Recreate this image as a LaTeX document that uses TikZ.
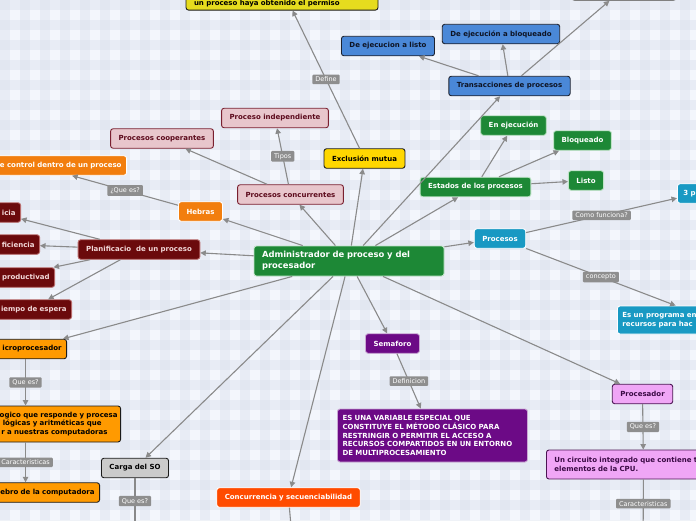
\documentclass[tikz,border=0pt]{standalone}
\usepackage{fontspec}
\setmainfont{DejaVu Sans}
\usetikzlibrary{arrows.meta}
\definecolor{bgc}{HTML}{F3F6FC}
\definecolor{gridc}{HTML}{DCE2EE}
\definecolor{connc}{HTML}{8A8A8A}
\definecolor{lblc}{HTML}{8E8E8E}
\definecolor{greenc}{HTML}{1D8836}
\definecolor{greenb}{HTML}{BFE3C7}
\definecolor{bluec}{HTML}{4A88D8}
\definecolor{blueb}{HTML}{1C2230}
\definecolor{bluet}{HTML}{0E1424}
\definecolor{pinkc}{HTML}{E8C6CC}
\definecolor{pinkb}{HTML}{7A2030}
\definecolor{pinkt}{HTML}{5C0A1C}
\definecolor{maroonc}{HTML}{6B0A0C}
\definecolor{maroonb}{HTML}{B86A6A}
\definecolor{maroont}{HTML}{F3D9D9}
\definecolor{orangec}{HTML}{F27E0E}
\definecolor{amberc}{HTML}{FF9A00}
\definecolor{yellowc}{HTML}{FFD700}
\definecolor{yellowtop}{HTML}{E6DC1E}
\definecolor{grayc}{HTML}{CBCBCB}
\definecolor{redorange}{HTML}{FF4B00}
\definecolor{purplec}{HTML}{6C0A86}
\definecolor{purpleb}{HTML}{C9A6D3}
\definecolor{violetc}{HTML}{F0A6F6}
\definecolor{violetb}{HTML}{4A1452}
\definecolor{violett}{HTML}{3A0A44}
\definecolor{cyanc}{HTML}{1899C3}
\definecolor{darkb}{HTML}{1A1A1A}
\tikzset{
  nodebox/.style={rounded corners=2.5pt, line width=0.9pt, inner xsep=8pt, inner ysep=3pt,
    minimum height=19.5pt, font=\fontsize{7}{8.6}\selectfont\bfseries},
  greenbox/.style={nodebox, fill=greenc, draw=greenb, text=white},
  bluebox/.style={nodebox, fill=bluec, draw=blueb, text=bluet},
  pinkbox/.style={nodebox, fill=pinkc, draw=pinkb, text=pinkt},
  maroonbox/.style={nodebox, fill=maroonc, draw=maroonb, text=maroont},
  orangebox/.style={nodebox, fill=orangec, draw=white, text=white},
  amberbox/.style={nodebox, fill=amberc, draw=darkb, text=black},
  yellowbox/.style={nodebox, fill=yellowc, draw=darkb, text=black},
  graybox/.style={nodebox, fill=grayc, draw=darkb, text=black},
  redbox/.style={nodebox, fill=redorange, draw=white, text=white},
  purplebox/.style={nodebox, fill=purplec, draw=purpleb, text=white},
  violetbox/.style={nodebox, fill=violetc, draw=violetb, text=violett},
  cyanbox/.style={nodebox, fill=cyanc, draw=white, text=white},
  leftcut/.style={anchor=east, align=right, inner xsep=5pt},
  conn/.style={draw=connc, line width=1.1pt, -{Triangle[length=5.5pt,width=5.5pt]}},
  lbl/.style={fill=lblc, text=white, font=\fontsize{6.5}{7.5}\selectfont, inner xsep=3pt,
    inner ysep=2.3pt, rounded corners=1pt}
}
\begin{document}
\begin{tikzpicture}[x=1pt,y=-1pt]
\useasboundingbox (0,0) rectangle (696,520);
\clip (0,0) rectangle (696,520);
% background grid
\fill[bgc] (0,0) rectangle (696,520);
\foreach \i in {0,20,...,680} \fill[gridc, opacity=0.45] (\i,0) rectangle ++(10,520);
\foreach \j in {0,20,...,520} \fill[gridc, opacity=0.45] (0,\j) rectangle ++(696,10);

% nodes
\node[greenbox, text width=174pt, align=left, minimum height=30pt, inner ysep=4pt,
  font=\fontsize{8.4}{11}\selectfont\bfseries] (central) at (349,261)
  {Administrador de proceso y del\\procesador};
\node[yellowbox, fill=yellowtop, anchor=south, text width=176pt, align=left, text height=35pt] (perm) at (282,10.5)
  {un proceso haya obtenido el permiso};
\node[graybox, draw=gray, anchor=south, minimum width=104pt, minimum height=24pt] (tr) at (624,0.8) {};
\node[bluebox] (ejlisto) at (388,46) {De ejecucion a listo};
\node[bluebox] (ejbloq) at (501,34) {De ejecución a bloqueado};
\node[bluebox] (trans) at (509.5,86) {Transacciones de procesos};
\node[greenbox] (enej) at (513.5,125.5) {En ejecución};
\node[greenbox] (bloq) at (582.5,140.5) {Bloqueado};
\node[greenbox] (listo) at (586,180.5) {Listo};
\node[greenbox] (estados) at (475.5,187) {Estados de los procesos};
\node[yellowbox] (excl) at (364.5,158.5) {Exclusión mutua};
\node[pinkbox] (indep) at (275,118) {Proceso independiente};
\node[pinkbox] (coop) at (162,138.5) {Procesos cooperantes};
\node[pinkbox] (conc) at (290.5,194.5) {Procesos concurrentes};
\node[orangebox] (hebras) at (200.5,211.5) {Hebras};
\node[orangebox, leftcut, text width=172pt] (control) at (127,165.5) {e control dentro de un proceso};
\node[maroonbox] (plan) at (139,249.5) {Planificacio\ \ de un proceso};
\node[maroonbox, leftcut, text width=38pt] (icia) at (21,212.5) {icia};
\node[maroonbox, leftcut, text width=50pt] (efic) at (40,244.5) {ficiencia};
\node[maroonbox, leftcut, text width=90pt] (prod) at (55,277.5) {productivad};
\node[maroonbox, leftcut, text width=74pt] (tiempo) at (72,309.5) {iempo de espera};
\node[amberbox, leftcut, text width=72pt] (micro) at (67,349) {icroprocesador};
\node[amberbox, leftcut, inner xsep=3pt, text width=184pt, minimum height=36pt,
  font=\fontsize{7}{8.6}\selectfont\bfseries] (mdef) at (121,424)
  {ogico que responde y procesa\\lógicas y aritméticas que\rule{16pt}{0pt}\\r a nuestras computadoras\rule{10pt}{0pt}};
\node[amberbox, leftcut, text width=138pt] (cerebro) at (100,492.5) {ebro de la computadora};
\node[graybox] (carga) at (135,468) {Carga del SO};
\node[redbox] (concur) at (288.5,497.5) {Concurrencia y secuenciabilidad};
\node[purplebox] (sema) at (392.5,343.5) {Semaforo};
\node[purplebox, text width=180pt, inner xsep=5pt, align=left, minimum height=53pt] (semadef) at (432.5,435.5)
  {ES UNA VARIABLE ESPECIAL QUE\\CONSTITUYE EL MÉTODO CLÁSICO PARA\\RESTRINGIR O PERMITIR EL ACCESO A\\RECURSOS COMPARTIDOS EN UN ENTORNO\\DE MULTIPROCESAMIENTO};
\node[violetbox] (procesador) at (642.5,394) {Procesador};
\node[violetbox, anchor=west, text width=178pt, align=left, minimum height=29pt] (circ) at (546,464.5)
  {Un circuito integrado que contiene t\\elementos de la CPU.};
\node[cyanbox] (procesos) at (500,238.5) {Procesos};
\node[cyanbox, anchor=west, text width=28pt, inner xsep=6pt, align=left] (tresp) at (677,193.5) {3 p};
\node[cyanbox, anchor=west, text width=182pt, inner xsep=5pt, align=left, minimum height=28pt] (esprog) at (617,320)
  {Es un programa en\\recursos para hac};

\coordinate (cargaend) at (135,560);
\coordinate (concend) at (294,560);
\coordinate (procend) at (643,560);

% connectors
\draw[conn] (central) -- (trans);
\draw[conn] (central) -- (estados);
\draw[conn] (central) -- (excl);
\draw[conn] (central) -- (conc);
\draw[conn] (central) -- (hebras);
\draw[conn] (central) -- (plan);
\draw[conn] (central) -- (micro);
\draw[conn] (central) -- (carga);
\draw[conn] (central) -- (concur);
\draw[conn] (central) -- (sema);
\draw[conn] (central) -- (procesador);
\draw[conn] (central) -- (procesos);
\draw[conn] (trans) -- (ejlisto);
\draw[conn] (trans) -- (ejbloq);
\draw[conn] (trans) -- (tr);
\draw[conn] (estados) -- (enej);
\draw[conn] (estados) -- (bloq);
\draw[conn] (estados) -- (listo);
\draw[conn] (excl) -- node[lbl]{Define} (perm);
\draw[conn] (conc) -- node[lbl]{Tipos} (indep);
\draw[conn] (conc) -- (coop);
\draw[conn] (hebras) -- node[lbl]{¿Que es?} (control);
\draw[conn] (plan) -- (icia);
\draw[conn] (plan) -- (efic);
\draw[conn] (plan) -- (prod);
\draw[conn] (plan) -- (tiempo);
\draw[conn] (micro) -- node[lbl]{Que es?} (mdef);
\draw[conn] (mdef) -- node[lbl]{Caracteristicas} (cerebro);
\draw[conn] (carga) -- node[lbl, pos=0.28]{Que es?} (cargaend);
\draw[conn] (concur) -- (concend);
\draw[conn] (sema) -- node[lbl]{Definicion} (semadef);
\draw[conn] (procesador) -- node[lbl]{Que es?} (circ);
\draw[conn] (circ) -- node[lbl, pos=0.3]{Caracteristicas} (procend);
\draw[conn] (procesos) -- node[lbl]{Como funciona?} (tresp);
\draw[conn] (procesos) -- node[lbl]{concepto} (esprog);
\end{tikzpicture}
\end{document}
